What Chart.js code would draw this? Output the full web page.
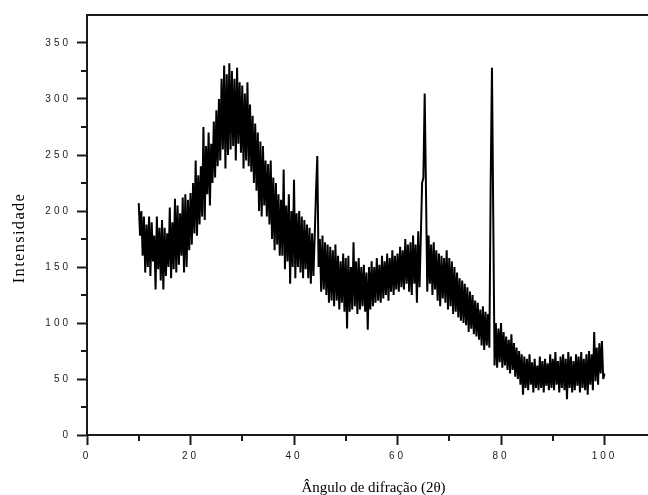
<!DOCTYPE html>
<html>
<head>
<meta charset="utf-8">
<script src="https://cdn.jsdelivr.net/npm/chart.js@4/dist/chart.umd.min.js"></script>
<style>
  html, body { margin: 0; padding: 0; background: #fff; }
  #wrap { width: 648px; height: 495px; }
</style>
</head>
<body>
<div id="wrap"><canvas id="c" width="648" height="495"></canvas></div>
<script>
// Measurement grid: 2θ from 10° to 100° in 0.25° steps
const angleStart = 10;
const angleStep = 0.25;

// Intensity values (one row = 2.5°)
const intensity = [
  207,178,200,160,195,145,188,150,195,142,   // 10.0
  190,155,178,130,195,148,185,138,192,130,   // 12.5
  185,142,180,150,203,140,190,148,211,145,   // 15.0
  205,152,198,160,212,145,215,150,210,165,   // 17.5
  216,170,225,180,245,178,232,188,240,195,   // 20.0
  275,192,258,215,270,205,260,225,280,230,   // 22.5
  290,240,300,245,318,255,330,238,322,250,   // 25.0
  332,255,325,258,318,245,328,260,315,252,   // 27.5
  312,238,305,245,315,240,295,235,285,225,   // 30.0
  278,218,270,200,262,195,258,205,245,195,   // 32.5
  242,188,245,175,230,165,225,170,215,160,   // 35.0
  210,160,237,148,205,155,215,135,200,150,   // 37.5
  228,140,198,150,200,145,195,140,192,148,   // 40.0
  188,140,185,135,180,142,178,217,249,150,   // 42.5
  175,128,178,130,172,125,170,118,168,120,   // 45.0
  165,115,170,120,160,112,155,118,162,110,   // 47.5
  158,95,160,110,150,112,172,115,155,108,    // 50.0
  158,112,150,115,152,110,145,94,150,112,    // 52.5
  155,115,150,118,158,120,152,118,160,122,   // 55.0
  155,125,162,120,158,128,165,125,160,130,   // 57.5
  162,128,168,132,165,130,175,135,170,128,   // 60.0
  172,125,178,135,170,118,182,132,176,225,   // 62.5
  230,305,218,128,178,135,170,125,172,130,   // 65.0
  165,120,162,115,160,122,158,118,165,112,   // 67.5
  158,115,155,108,150,110,145,105,140,102,   // 70.0
  138,100,135,98,132,92,128,95,125,90,       // 72.5
  120,88,118,85,112,80,115,76,110,80,        // 75.0
  108,78,225,328,195,62,100,60,95,65,        // 77.5
  100,60,92,62,88,58,85,55,90,58,            // 80.0
  82,52,78,50,75,45,72,36,70,42,             // 82.5
  68,40,72,45,65,38,68,42,62,40,             // 85.0
  70,42,66,38,68,44,64,40,72,42,             // 87.5
  68,40,74,45,66,38,70,42,72,40,             // 90.0
  68,32,74,42,70,38,66,40,72,44,             // 92.5
  70,38,74,42,68,40,72,36,75,45,             // 95.0
  72,40,92,48,78,45,82,55,84,50,             // 97.5
  55                                          // 100.0
];

// Axis ticks
const xMajorTicks = [0, 20, 40, 60, 80, 100];
const xMinorTicks = [10, 30, 50, 70, 90];
const yMajorTicks = [0, 50, 100, 150, 200, 250, 300, 350];
const yMinorTicks = [25, 75, 125, 175, 225, 275, 325];

const xTitle = 'Ângulo de difração (2θ)';
const yTitle = 'Intensidade';

const points = intensity.map((v, i) => ({ x: angleStart + i * angleStep, y: v }));

const axisColor = '#1a1a1a';
const tickFont = { family: '"Liberation Sans", "DejaVu Sans", sans-serif', size: 10 };
const titleFontFamily = '"Liberation Serif", "DejaVu Serif", serif';
const tickLetterSpacing = '3px';
const titleStyle = {
  x: { dx: 6, dy: 2, ls: '0px' },
  y: { dx: 0, dy: 13, ls: '1.3px' }
};

function majorTicks(list) {
  return function (scale) { scale.ticks = list.map(v => ({ value: v })); };
}

// Short minor tick marks placed through the scales
const minorTickPlugin = {
  id: 'minorTicks',
  afterDraw(chart) {
    const ctx = chart.ctx, xs = chart.scales.x, ys = chart.scales.y;
    ctx.save();
    ctx.strokeStyle = axisColor;
    ctx.lineWidth = 2;
    ctx.beginPath();
    xMinorTicks.forEach(v => {
      const p = Math.round(xs.getPixelForValue(v));
      ctx.moveTo(p, xs.top); ctx.lineTo(p, xs.top + 6);
    });
    yMinorTicks.forEach(v => {
      const p = Math.round(ys.getPixelForValue(v));
      ctx.moveTo(ys.right, p); ctx.lineTo(ys.right - 6, p);
    });
    ctx.stroke();
    ctx.restore();
  }
};

// Letter spacing / offsets for axis texts
const textStylePlugin = {
  id: 'textStyle',
  beforeDraw(chart) {
    Object.values(chart.scales).forEach(scale => {
      if (scale._styled) return;
      scale._styled = true;
      const origLabels = scale.drawLabels;
      scale.drawLabels = function (area) {
        const ctx = this.ctx;
        ctx.save();
        ctx.letterSpacing = tickLetterSpacing;
        origLabels.call(this, area);
        ctx.restore();
      };
      const origTitle = scale.drawTitle;
      const st = titleStyle[scale.id];
      scale.drawTitle = function () {
        const ctx = this.ctx;
        ctx.save();
        if (st) { ctx.translate(st.dx, st.dy); ctx.letterSpacing = st.ls; }
        origTitle.call(this);
        ctx.restore();
      };
    });
  }
};

new Chart(document.getElementById('c'), {
  type: 'line',
  data: {
    datasets: [{
      data: points,
      borderColor: '#000',
      borderWidth: 2,
      borderJoinStyle: 'bevel',
      pointRadius: 0,
      tension: 0,
      fill: false
    }]
  },
  plugins: [textStylePlugin, minorTickPlugin],
  options: {
    responsive: false,
    animation: false,
    layout: { padding: { top: 15, right: 0, bottom: 0, left: 0 } },
    plugins: { legend: { display: false }, tooltip: { enabled: false } },
    scales: {
      x: {
        type: 'linear',
        position: 'bottom',
        min: 0,
        max: 108.4,
        afterBuildTicks: majorTicks(xMajorTicks),
        afterFit: s => { s.height = 60; },
        border: { display: true, color: axisColor, width: 2 },
        grid: { drawOnChartArea: false, drawTicks: true, tickLength: 10, tickWidth: 2, tickColor: axisColor },
        ticks: { font: tickFont, color: '#1a1a1a', padding: 5, maxRotation: 0, autoSkip: false },
        title: { display: true, text: xTitle, color: '#000', font: { family: titleFontFamily, size: 15 }, padding: { top: 0, bottom: 0 } }
      },
      xTop: {
        type: 'linear',
        position: 'top',
        min: 0,
        max: 108.4,
        afterFit: s => { s.height = 0; },
        border: { display: true, color: axisColor, width: 2 },
        grid: { display: true, drawOnChartArea: false, drawTicks: false },
        ticks: { display: false }
      },
      y: {
        type: 'linear',
        position: 'left',
        min: 0,
        max: 375,
        afterBuildTicks: majorTicks(yMajorTicks),
        afterFit: s => { s.width = 87; },
        border: { display: true, color: axisColor, width: 2 },
        grid: { drawOnChartArea: false, drawTicks: true, tickLength: 10, tickWidth: 2, tickColor: axisColor },
        ticks: { font: tickFont, color: '#1a1a1a', padding: 6, autoSkip: false },
        title: { display: true, text: yTitle, color: '#000', font: { family: titleFontFamily, size: 16.5 }, padding: { top: 10, bottom: 0 } }
      }
    }
  }
});
</script>
</body>
</html>
